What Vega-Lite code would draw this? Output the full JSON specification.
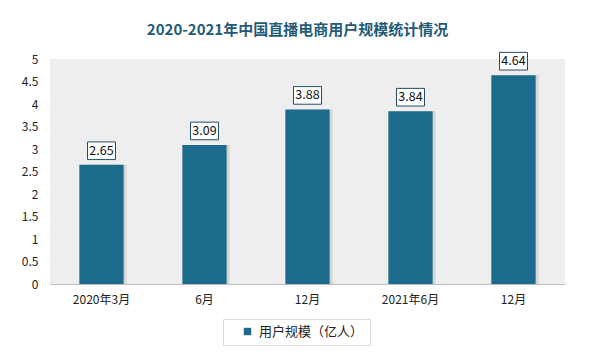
{
  "$schema": "https://vega.github.io/schema/vega-lite/v6.json",
  "autosize": {"type": "none"},
  "padding": {"left": 50, "top": 59, "right": 29, "bottom": 77},
  "width": 515,
  "height": 225,
  "background": "white",
  "config": {
    "font": "Noto Sans CJK SC",
    "view": {"fill": "#eeeeee", "stroke": null}
  },
  "title": {
    "text": "2020-2021年中国直播电商用户规模统计情况",
    "fontSize": 15,
    "fontWeight": "bold",
    "color": "#1f5b77",
    "anchor": "middle",
    "dx": -10,
    "offset": 12
  },
  "data": {
    "values": [
      {"period": "2020年3月", "value": 2.65, "series": "用户规模（亿人）"},
      {"period": "6月", "value": 3.09, "series": "用户规模（亿人）"},
      {"period": "12月 ", "value": 3.88, "series": "用户规模（亿人）"},
      {"period": "2021年6月", "value": 3.84, "series": "用户规模（亿人）"},
      {"period": "12月", "value": 4.64, "series": "用户规模（亿人）"}
    ]
  },
  "encoding": {
    "x": {
      "field": "period",
      "type": "nominal",
      "sort": null,
      "scale": {"paddingInner": 0.57, "paddingOuter": 0.285},
      "axis": {
        "title": null,
        "labelAngle": 0,
        "labelFontSize": 12,
        "labelColor": "#222222",
        "labelPadding": 10,
        "ticks": false,
        "domainColor": "#bfbfbf",
        "labelExpr": "trim(datum.label)"
      }
    },
    "y": {
      "field": "value",
      "type": "quantitative",
      "scale": {"domain": [0, 5]},
      "axis": {
        "title": null,
        "values": [0, 0.5, 1, 1.5, 2, 2.5, 3, 3.5, 4, 4.5, 5],
        "format": "~g",
        "labelOverlap": false,
        "grid": false,
        "domain": false,
        "ticks": false,
        "labelFontSize": 12,
        "labelColor": "#222222",
        "labelPadding": 12
      }
    }
  },
  "layer": [
    {
      "mark": {"type": "bar", "color": "#b5b5b5", "opacity": 0.45, "xOffset": 3},
      "encoding": {}
    },
    {
      "mark": {"type": "bar"},
      "encoding": {
        "color": {
          "field": "series",
          "type": "nominal",
          "scale": {"range": ["#1d6b8c"]},
          "legend": {
            "title": null,
            "orient": "none",
            "legendX": 173,
            "legendY": 260,
            "direction": "horizontal",
            "symbolType": "square",
            "symbolSize": 55,
            "labelFontSize": 13,
            "labelColor": "#222222",
            "strokeColor": "#d9d9d9",
            "fillColor": "white",
            "padding": 6,
            "symbolOffset": 12,
            "labelOffset": 5
          }
        }
      }
    },
    {
      "mark": {
        "type": "point",
        "shape": "M-1,-0.63L1,-0.63L1,0.63L-1,0.63Z",
        "size": 784,
        "filled": false,
        "fill": "white",
        "fillOpacity": 1,
        "stroke": "#1f4e64",
        "strokeWidth": 1,
        "opacity": 1,
        "yOffset": -14
      },
      "encoding": {}
    },
    {
      "mark": {"type": "text", "fontSize": 12.5, "color": "#111111", "dy": -14},
      "encoding": {"text": {"field": "value", "type": "quantitative", "format": ".2f"}}
    }
  ]
}
